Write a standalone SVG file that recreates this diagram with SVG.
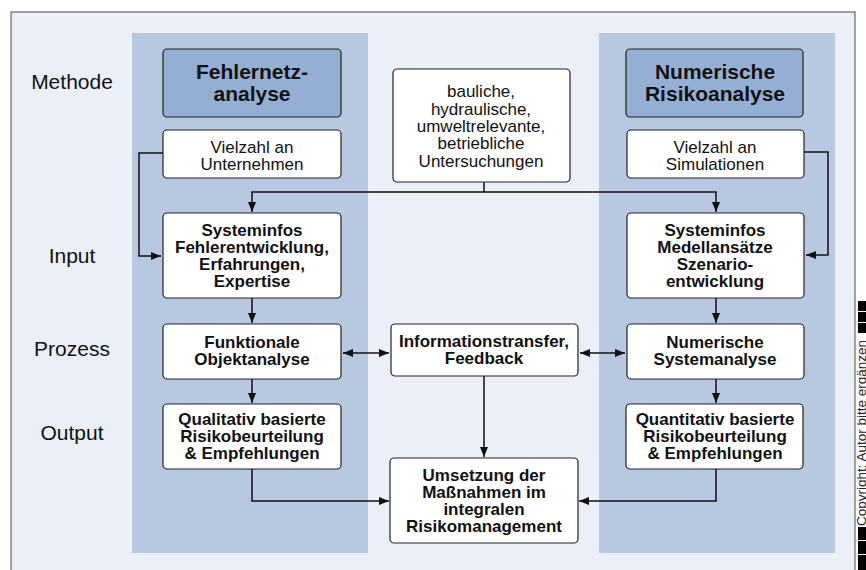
<svg xmlns="http://www.w3.org/2000/svg" width="866" height="570" viewBox="0 0 866 570">
<defs>
<marker id="ah" viewBox="0 0 10 8" refX="10" refY="4" markerWidth="10" markerHeight="8" markerUnits="userSpaceOnUse" orient="auto-start-reverse">
<path d="M0,0 L10,4 L0,8 Z" fill="#111"/>
</marker>
<style>
.lbl{font-family:"Liberation Sans",Arial,sans-serif;font-size:21px;fill:#111;text-anchor:middle}
.hd{font-family:"Liberation Sans",Arial,sans-serif;font-size:21px;font-weight:bold;fill:#111;text-anchor:middle}
.t{font-family:"Liberation Sans",Arial,sans-serif;font-size:17px;fill:#111;text-anchor:middle}
.b{font-family:"Liberation Sans",Arial,sans-serif;font-size:17px;font-weight:bold;fill:#111;text-anchor:middle}
.box{fill:#fff;stroke:#222;stroke-width:1.2}
.hbox{fill:#95AFD4;stroke:#222;stroke-width:1.2}
.band{fill:#B8C8E0}
.con{fill:none;stroke:#111;stroke-width:1.5}
</style>
</defs>
<rect x="0" y="0" width="866" height="570" fill="#fff"/>
<rect x="11" y="12" width="844" height="562" fill="#EBF0F8" stroke="#666" stroke-width="1.2"/>
<rect class="band" x="132" y="33" width="236" height="520"/>
<rect class="band" x="599" y="33" width="236" height="520"/>

<g id="labels">
<text class="lbl" x="72" y="89">Methode</text>
<text class="lbl" x="72" y="263">Input</text>
<text class="lbl" x="72" y="356">Prozess</text>
<text class="lbl" x="72" y="440">Output</text>
</g>

<g id="connectors">
<path class="con" d="M163,153 H139 V256 H161" marker-end="url(#ah)"/>
<path class="con" d="M804,152 H828 V255 H806" marker-end="url(#ah)"/>
<path class="con" d="M484,182 V192"/>
<path class="con" d="M484,192 H252 V212" marker-end="url(#ah)"/>
<path class="con" d="M484,192 H716 V212" marker-end="url(#ah)"/>
<path class="con" d="M252,298 V323" marker-end="url(#ah)"/>
<path class="con" d="M716,298 V323" marker-end="url(#ah)"/>
<path class="con" d="M252,379 V403" marker-end="url(#ah)"/>
<path class="con" d="M716,379 V403" marker-end="url(#ah)"/>
<path class="con" d="M343,353 H389" marker-start="url(#ah)" marker-end="url(#ah)"/>
<path class="con" d="M580,353 H625" marker-start="url(#ah)" marker-end="url(#ah)"/>
<path class="con" d="M484,376 V457" marker-end="url(#ah)"/>
<path class="con" d="M252,469 V501 H389" marker-end="url(#ah)"/>
<path class="con" d="M716,469 V501 H579" marker-end="url(#ah)"/>
</g>

<g id="n-fehlernetz">
<rect class="hbox" x="163" y="49" width="178" height="68" rx="4"/>
<text class="hd" x="252" y="79">Fehlernetz-</text>
<text class="hd" x="252" y="101">analyse</text>
</g>
<g id="n-numrisiko">
<rect class="hbox" x="626" y="49" width="177" height="68" rx="4"/>
<text class="hd" x="715" y="79">Numerische</text>
<text class="hd" x="715" y="101">Risikoanalyse</text>
</g>
<g id="n-unternehmen">
<rect class="box" x="163" y="130" width="178" height="48" rx="4"/>
<text class="t" x="252" y="153">Vielzahl an</text>
<text class="t" x="252" y="170">Unternehmen</text>
</g>
<g id="n-simulationen">
<rect class="box" x="627" y="130" width="177" height="48" rx="4"/>
<text class="t" x="715" y="153">Vielzahl an</text>
<text class="t" x="715" y="170">Simulationen</text>
</g>
<g id="n-bauliche">
<rect class="box" x="393" y="69" width="177" height="113" rx="4"/>
<text class="t" x="481" y="97">bauliche,</text>
<text class="t" x="481" y="115">hydraulische,</text>
<text class="t" x="481" y="132">umweltrelevante,</text>
<text class="t" x="481" y="149">betriebliche</text>
<text class="t" x="481" y="167">Untersuchungen</text>
</g>
<g id="n-sys-left">
<rect class="box" x="163" y="213" width="178" height="85" rx="4"/>
<text class="b" x="252" y="236">Systeminfos</text>
<text class="b" x="252" y="253">Fehlerentwicklung,</text>
<text class="b" x="252" y="270">Erfahrungen,</text>
<text class="b" x="252" y="287">Expertise</text>
</g>
<g id="n-sys-right">
<rect class="box" x="627" y="213" width="177" height="85" rx="4"/>
<text class="b" x="715" y="236">Systeminfos</text>
<text class="b" x="715" y="253">Medellansätze</text>
<text class="b" x="715" y="270">Szenario-</text>
<text class="b" x="715" y="287">entwicklung</text>
</g>
<g id="n-funktionale">
<rect class="box" x="163" y="324" width="178" height="55" rx="4"/>
<text class="b" x="252" y="348">Funktionale</text>
<text class="b" x="252" y="365">Objektanalyse</text>
</g>
<g id="n-info">
<rect class="box" x="391" y="324" width="187" height="52" rx="4"/>
<text class="b" x="484" y="347">Informationstransfer,</text>
<text class="b" x="484" y="364">Feedback</text>
</g>
<g id="n-numsys">
<rect class="box" x="627" y="324" width="177" height="55" rx="4"/>
<text class="b" x="715" y="348">Numerische</text>
<text class="b" x="715" y="365">Systemanalyse</text>
</g>
<g id="n-qualitativ">
<rect class="box" x="163" y="404" width="178" height="65" rx="4"/>
<text class="b" x="252" y="425">Qualitativ basierte</text>
<text class="b" x="252" y="442">Risikobeurteilung</text>
<text class="b" x="252" y="459">&amp; Empfehlungen</text>
</g>
<g id="n-quantitativ">
<rect class="box" x="626" y="404" width="177" height="65" rx="4"/>
<text class="b" x="715" y="425">Quantitativ basierte</text>
<text class="b" x="715" y="442">Risikobeurteilung</text>
<text class="b" x="715" y="459">&amp; Empfehlungen</text>
</g>
<g id="n-umsetzung">
<rect class="box" x="390" y="458" width="188" height="85" rx="4"/>
<text class="b" x="484" y="481">Umsetzung der</text>
<text class="b" x="484" y="498">Maßnahmen im</text>
<text class="b" x="484" y="515">integralen</text>
<text class="b" x="484" y="532">Risikomanagement</text>
</g>

<g id="copyright">
<rect x="858" y="301" width="8" height="10" fill="#000"/>
<rect x="858" y="312" width="8" height="10" fill="#000"/>
<rect x="858" y="323" width="8" height="10" fill="#000"/>
<rect x="858" y="527" width="8" height="13" fill="#000"/>
<rect x="858" y="541" width="8" height="13" fill="#000"/>
<rect x="858" y="555" width="8" height="15" fill="#000"/>
<text x="866" y="526" transform="rotate(-90 866 526)" font-family="Liberation Sans, Arial, sans-serif" font-size="13.5" fill="#222">Copyright: Autor bitte ergänzen</text>
</g>
</svg>
